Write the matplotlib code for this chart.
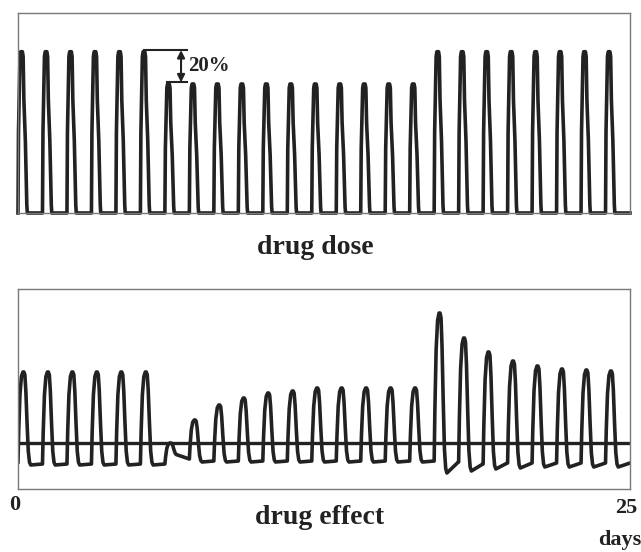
import numpy as np
import matplotlib.pyplot as plt

plt.rcParams['font.family'] = ['Liberation Serif', 'DejaVu Serif']

# one pulse per day, 25 days
days = list(range(25))
dose_peak = [100, 100, 100, 100, 100, 100,
             80, 80, 80, 80, 80, 80, 80, 80, 80, 80, 80,
             100, 100, 100, 100, 100, 100, 100, 100]

effect_peak = [117, 117, 117, 117, 117, 117,
               46, 69, 84, 91, 96, 98, 101, 101, 101, 101, 101,
               176, 151, 137, 128, 123, 120, 119, 118]
effect_trough = [24, 24, 24, 24, 24, 24,
                 34, 27, 27, 27, 27, 27, 27, 27, 27, 27, 27,
                 16, 18, 20, 21, 22, 22, 22, 22]
effect_recover = [25, 25, 25, 25, 25, 25,
                  30, 28, 28, 28, 28, 28, 28, 28, 28, 28, 28,
                  27, 25, 26, 26, 26, 26, 26, 26]
effect_start = 27
threshold = 46

dose_shape_t = [0.00, 0.02, 0.05, 0.08, 0.11, 0.14, 0.18, 0.21, 0.24, 0.30, 0.36, 0.38]
dose_shape_f = [0.0, 0.5, 0.75, 0.97, 1.0, 1.0, 1.0, 0.97, 0.7, 0.45, 0.05, 0.0]

rise_t = [0.00, 0.03, 0.08, 0.14, 0.20, 0.24]
rise_f = [0.0, 0.35, 0.75, 0.95, 1.0, 1.0]
fall_t = [0.28, 0.32, 0.37, 0.42, 0.47, 0.52]
fall_f = [0.97, 0.8, 0.45, 0.15, 0.03, 0.0]

dx, dy = [0.0], [0.0]
for d, p in zip(days, dose_peak):
    for t, f in zip(dose_shape_t, dose_shape_f):
        dx.append(d + t)
        dy.append(p * f)
dx.append(25.0)
dy.append(0.0)

ex, ey = [], []
prev = effect_start
for d, p, tm, te in zip(days, effect_peak, effect_trough, effect_recover):
    for t, f in zip(rise_t, rise_f):
        ex.append(d + t)
        ey.append(prev + f * (p - prev))
    for t, f in zip(fall_t, fall_f):
        ex.append(d + t)
        ey.append(tm + f * (p - tm))
    ex.append(d + 0.99)
    ey.append(te)
    prev = te
ex.append(25.0)
ey.append(prev)

fig = plt.figure(figsize=(6.41, 5.52), dpi=100)
ax1 = fig.add_axes([18 / 641, 339 / 552, 612 / 641, 200 / 552])
ax2 = fig.add_axes([18 / 641, 63 / 552, 612 / 641, 200 / 552])

line_col = '#222222'
for ax in (ax1, ax2):
    ax.set_xlim(0, 25)
    ax.set_xticks([])
    ax.set_yticks([])
    for s in ax.spines.values():
        s.set_color('#7a7a7a')
        s.set_linewidth(1.0)

ax1.set_ylim(0, 124)
ax1.plot(dx, dy, color=line_col, lw=2.6, clip_on=False, solid_joinstyle='round')

# 20% marker
ax1.plot([5.15, 6.9], [101, 101], color=line_col, lw=1.5)
ax1.plot([6.1, 6.9], [81, 81], color=line_col, lw=1.5)
ax1.annotate('', xy=(6.66, 101), xytext=(6.66, 81),
             arrowprops=dict(arrowstyle='<|-|>', color=line_col, lw=1.5,
                             mutation_scale=11, shrinkA=0, shrinkB=0))
ax1.text(6.95, 91, '20%', fontsize=15, fontweight='bold', color=line_col,
         va='center', ha='left')

ax2.set_ylim(0, 200)
ax2.axhline(threshold, color=line_col, lw=2.4)
ax2.plot(ex, ey, color=line_col, lw=2.6, solid_joinstyle='round')

fig.text(315 / 641, 1 - 248 / 552, 'drug dose', fontsize=20, fontweight='bold',
         color=line_col, ha='center', va='center')
fig.text(320 / 641, 1 - 518 / 552, 'drug effect', fontsize=20, fontweight='bold',
         color=line_col, ha='center', va='center')
fig.text(15 / 641, 1 - 505 / 552, '0', fontsize=16, fontweight='bold',
         color=line_col, ha='center', va='center')
fig.text(626 / 641, 1 - 508 / 552, '25', fontsize=16, fontweight='bold',
         color=line_col, ha='center', va='center')
fig.text(620 / 641, 1 - 540 / 552, 'days', fontsize=16, fontweight='bold',
         color=line_col, ha='center', va='center')

fig.savefig('out.png', dpi=100)
